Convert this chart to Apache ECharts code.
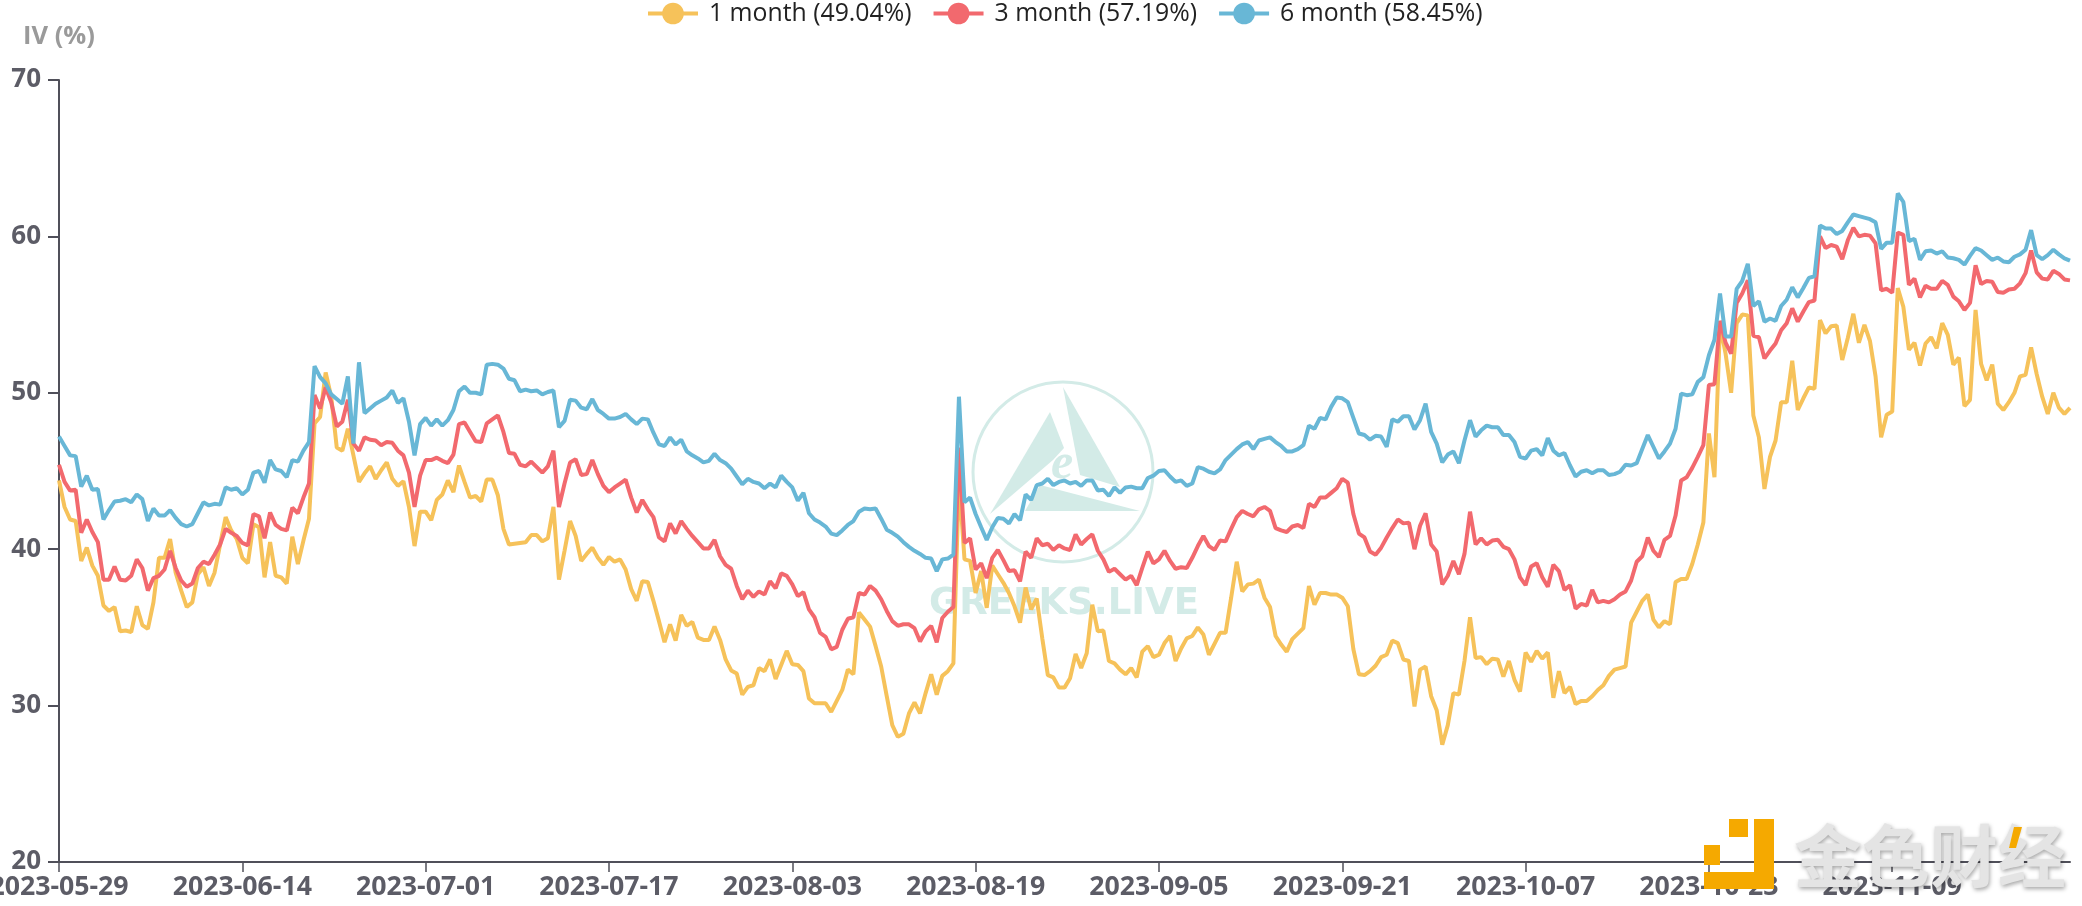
<!DOCTYPE html>
<html>
<head>
<meta charset="utf-8">
<title>IV</title>
<style>
  html, body { margin: 0; padding: 0; background: #fff; }
  #chart { width: 2082px; height: 906px; }
</style>
</head>
<body>
<div id="chart"></div>
<script src="https://cdn.jsdelivr.net/npm/echarts@6/dist/echarts.min.js"></script>
<script>
const tickLabels = ['2023-05-29', '2023-06-14', '2023-07-01', '2023-07-17', '2023-08-03', '2023-08-19',
  '2023-09-05', '2023-09-21', '2023-10-07', '2023-10-23', '2023-11-09']
const seriesNames = ['1 month (49.04%)', '3 month (57.19%)', '6 month (58.45%)']

const oneMonth = [
  44.4,42.7,41.9,41.8,39.25,40.1,38.95,38.3,36.4,36.05,
  36.3,34.75,34.8,34.7,36.35,35.15,34.9,36.6,39.45,39.45,
  40.65,38.5,37.35,36.3,36.6,38.4,38.85,37.65,38.5,40.3,
  42.05,41.2,40.65,39.45,39.1,41.6,41.4,38.2,40.45,38.3,
  38.2,37.8,40.8,39.05,40.55,41.95,48.05,48.45,51.3,49.75,
  46.5,46.3,47.7,46.0,44.3,44.85,45.3,44.5,45.05,45.55,
  44.5,44.05,44.35,42.7,40.2,42.4,42.4,41.85,43.15,43.5,
  44.4,43.65,45.35,44.3,43.3,43.4,43.05,44.45,44.45,43.45,
  41.3,40.3,40.35,40.4,40.45,40.9,40.9,40.5,40.7,42.7,
  38.05,39.9,41.8,40.85,39.25,39.7,40.1,39.45,39.0,39.5,
  39.2,39.35,38.7,37.45,36.7,37.95,37.9,36.7,35.4,34.05,
  35.2,34.15,35.8,35.1,35.35,34.35,34.2,34.2,35.05,34.2,
  32.95,32.25,32.05,30.7,31.2,31.3,32.4,32.2,32.95,31.7,
  32.6,33.5,32.65,32.6,32.2,30.45,30.15,30.15,30.15,29.6,
  30.3,31.0,32.3,32.0,35.95,35.5,35.05,33.8,32.5,30.6,
  28.75,28.0,28.2,29.5,30.2,29.5,30.8,32.0,30.7,31.9,
  32.2,32.7,44.5,39.35,39.25,37.2,38.6,36.25,38.95,38.4,
  37.85,37.2,36.35,35.3,37.55,36.15,36.85,34.3,31.95,31.8,
  31.15,31.15,31.75,33.3,32.4,33.35,36.45,34.75,34.8,32.85,
  32.7,32.3,32.0,32.4,31.8,33.45,33.8,33.1,33.25,34.0,
  34.45,32.85,33.65,34.3,34.45,35.0,34.55,33.25,33.95,34.65,
  34.65,36.9,39.2,37.3,37.75,37.8,38.05,36.9,36.3,34.45,
  33.9,33.45,34.25,34.6,34.95,37.65,36.45,37.2,37.2,37.1,
  37.1,36.9,36.35,33.6,32.0,31.95,32.2,32.55,33.1,33.25,
  34.15,34.0,32.95,32.85,29.95,32.3,32.5,30.6,29.7,27.5,
  28.75,30.8,30.7,32.85,35.65,33.05,33.1,32.65,33.0,32.95,
  31.85,32.85,31.65,30.9,33.4,32.8,33.5,33.0,33.4,30.5,
  32.2,30.8,31.2,30.1,30.3,30.3,30.6,31.0,31.3,31.9,
  32.3,32.4,32.5,35.3,36.0,36.7,37.1,35.5,35.0,35.4,
  35.2,37.9,38.1,38.1,39.05,40.3,41.7,47.4,44.6,54.35,
  52.5,50.0,54.45,55.0,54.95,48.55,47.15,43.85,45.9,46.95,
  49.4,49.4,52.05,48.9,49.65,50.35,50.25,54.65,53.8,54.25,
  54.3,52.1,53.5,55.05,53.2,54.35,53.3,51.05,47.15,48.6,
  48.8,56.7,55.5,52.75,53.2,51.75,53.15,53.55,52.85,54.45,
  53.7,51.8,52.25,49.15,49.55,55.3,51.85,50.8,51.8,49.3,
  48.9,49.4,50.0,51.05,51.15,52.9,51.2,49.75,48.65,50.0,
  49.05,48.65,49.04,
]

const threeMonth = [
  45.4,44.3,43.75,43.8,41.05,41.9,41.1,40.45,38.05,38.05,
  38.9,38.05,38.0,38.3,39.35,38.8,37.35,38.15,38.3,38.7,
  39.9,38.8,38.0,37.6,37.8,38.8,39.2,39.05,39.65,40.3,
  41.3,41.05,40.85,40.4,40.25,42.25,42.1,40.7,42.35,41.55,
  41.3,41.2,42.65,42.3,43.3,44.2,49.85,49.0,50.35,49.4,
  47.85,48.15,49.55,46.75,46.3,47.15,47.0,46.95,46.65,46.85,
  46.8,46.3,46.0,44.9,42.7,44.7,45.7,45.7,45.85,45.65,
  45.5,46.05,48.0,48.1,47.5,46.9,46.85,48.05,48.3,48.55,
  47.5,46.15,46.1,45.4,45.3,45.6,45.25,44.9,45.3,46.3,
  42.7,44.2,45.55,45.75,44.75,44.8,45.7,44.8,44.05,43.65,
  43.95,44.2,44.45,43.3,42.35,43.15,42.55,42.05,40.75,40.5,
  41.65,41.0,41.8,41.3,40.85,40.45,40.05,40.05,40.6,39.55,
  39.0,38.75,37.65,36.8,37.35,36.95,37.3,37.1,37.95,37.5,
  38.45,38.3,37.75,37.0,37.25,36.15,35.65,34.65,34.4,33.6,
  33.75,34.85,35.55,35.65,37.2,37.1,37.65,37.35,36.8,36.05,
  35.4,35.1,35.2,35.2,34.95,34.1,34.75,35.1,34.05,35.6,
  36.0,36.3,46.5,40.4,40.7,38.7,39.1,38.15,39.45,39.95,
  39.3,38.6,38.65,37.95,39.85,39.45,40.7,40.25,40.35,39.95,
  40.25,40.05,39.95,40.95,40.3,40.65,40.95,39.9,39.35,38.55,
  38.75,38.4,38.05,38.3,37.7,38.8,39.85,39.1,39.35,39.9,
  39.25,38.75,38.85,38.8,39.45,40.2,40.85,40.2,39.95,40.55,
  40.5,41.3,42.05,42.45,42.25,42.1,42.55,42.7,42.45,41.35,
  41.2,41.1,41.45,41.55,41.35,42.9,42.7,43.3,43.3,43.6,
  43.9,44.5,44.25,42.25,41.0,40.75,39.85,39.65,40.1,40.75,
  41.35,41.9,41.65,41.7,40.0,41.5,42.3,40.3,39.85,37.75,
  38.3,39.25,38.4,39.7,42.4,40.3,40.7,40.3,40.55,40.6,
  40.15,40.0,39.35,38.2,37.7,38.9,39.1,38.2,37.6,39.0,
  38.6,37.4,37.7,36.2,36.5,36.4,37.4,36.6,36.7,36.6,
  36.8,37.1,37.3,38.0,39.2,39.55,40.75,39.9,39.5,40.6,
  40.85,42.15,44.4,44.6,45.2,45.9,46.65,50.5,50.55,54.6,
  53.2,52.5,55.75,56.35,57.2,53.65,53.55,52.2,52.7,53.15,
  54.0,54.45,55.4,54.55,55.2,55.8,55.9,60.0,59.25,59.45,
  59.35,58.55,59.75,60.55,60.0,60.1,60.05,59.55,56.55,56.65,
  56.4,60.25,60.1,56.9,57.3,56.1,56.85,56.65,56.65,57.15,
  56.9,56.15,55.85,55.3,55.75,58.15,56.95,57.15,57.1,56.45,
  56.4,56.6,56.65,57.0,57.65,59.1,57.7,57.3,57.25,57.8,
  57.6,57.25,57.19,
]

const sixMonth = [
  47.2,46.6,46.0,45.95,44.0,44.7,43.8,43.85,41.9,42.5,
  43.05,43.1,43.2,43.0,43.5,43.2,41.8,42.6,42.15,42.15,
  42.5,42.0,41.6,41.45,41.6,42.3,43.0,42.8,42.9,42.85,
  43.95,43.8,43.9,43.5,43.8,44.9,45.0,44.25,45.7,45.1,
  45.0,44.6,45.7,45.6,46.3,46.85,51.7,51.0,50.6,49.9,
  49.6,49.3,51.05,46.75,51.95,48.7,49.0,49.3,49.5,49.7,
  50.15,49.35,49.65,48.15,46.0,48.0,48.4,47.9,48.3,47.9,
  48.25,48.9,50.1,50.4,50.0,50.0,49.9,51.8,51.85,51.8,
  51.55,50.9,50.8,50.1,50.2,50.1,50.15,49.9,50.05,50.15,
  47.8,48.2,49.55,49.5,49.05,48.95,49.6,48.9,48.65,48.35,
  48.35,48.45,48.65,48.3,48.0,48.35,48.3,47.45,46.7,46.6,
  47.15,46.7,47.0,46.25,46.0,45.8,45.55,45.65,46.1,45.7,
  45.5,45.15,44.65,44.15,44.5,44.3,44.2,43.9,44.2,43.95,
  44.7,44.3,43.95,43.1,43.6,42.3,41.9,41.7,41.45,41.0,
  40.9,41.2,41.55,41.8,42.4,42.6,42.55,42.6,41.95,41.25,
  41.05,40.8,40.45,40.15,39.9,39.7,39.45,39.4,38.6,39.35,
  39.4,39.65,49.75,43.0,43.3,42.25,41.4,40.6,41.4,42.0,
  41.95,41.65,42.25,41.85,43.5,43.15,44.1,44.2,44.5,44.1,
  44.3,44.4,44.2,44.3,44.05,44.4,44.4,43.75,43.8,43.4,
  43.95,43.6,43.95,44.0,43.9,43.9,44.55,44.7,45.0,45.05,
  44.65,44.3,44.4,44.05,44.2,45.25,45.15,44.95,44.85,45.1,
  45.7,46.05,46.4,46.7,46.85,46.4,46.95,47.05,47.15,46.85,
  46.6,46.25,46.25,46.4,46.65,47.9,47.7,48.4,48.3,49.1,
  49.7,49.65,49.4,48.4,47.4,47.3,47.0,47.25,47.2,46.55,
  48.3,48.15,48.5,48.5,47.65,48.25,49.3,47.5,46.75,45.55,
  46.05,46.25,45.5,46.95,48.25,47.2,47.6,47.9,47.8,47.8,
  47.3,47.3,46.85,45.9,45.8,46.3,46.4,46.0,47.1,46.3,
  46.0,46.15,45.35,44.65,44.95,45.05,44.85,45.05,45.05,44.75,
  44.8,44.95,45.4,45.35,45.5,46.4,47.3,46.55,45.8,46.25,
  46.75,47.7,49.95,49.85,49.9,50.7,51.0,52.4,53.4,56.35,
  53.6,53.6,56.65,57.15,58.25,55.55,55.85,54.55,54.75,54.6,
  55.55,55.95,56.75,56.1,56.7,57.35,57.45,60.7,60.5,60.5,
  60.15,60.35,60.9,61.4,61.3,61.2,61.1,60.9,59.2,59.6,
  59.6,62.75,62.2,59.7,59.85,58.5,59.05,59.1,58.9,59.05,
  58.65,58.6,58.5,58.2,58.75,59.25,59.1,58.8,58.5,58.65,
  58.4,58.35,58.7,58.85,59.15,60.4,58.8,58.55,58.8,59.15,
  58.85,58.6,58.45,
]

// points are half a day apart, each tick starts a run of 33
const ticksEvery = 33
const categories = oneMonth.map((_, i) => {
  const tick = tickLabels[Math.floor(i / ticksEvery)]
  if (i % ticksEvery === 0) return tick
  const d = new Date(tick + 'T00:00:00Z')
  d.setTime(d.getTime() + (i % ticksEvery) * 12 * 3600 * 1000)
  return d.toISOString().slice(0, 16).replace('T', ' ')
})

const labelColor = '#5c5c66'
const axisColor = '#50505a'
const markColor = '#d3ebe7'
const logoColor = '#f5a900'

function poly(points, fill, z) {
  return { type: 'polygon', z: z, silent: true, shape: { points: points }, style: { fill: fill } }
}

function rect(x, y, width, height) {
  return { type: 'rect', z: 100, silent: true, shape: { x, y, width, height }, style: { fill: logoColor } }
}

const chart = echarts.init(document.getElementById('chart'))

chart.setOption({
  animation: false,
  backgroundColor: '#fff',
  textStyle: { fontFamily: '"Open Sans", sans-serif' },
  color: ['#f6c25a', '#f2696e', '#68b7d6'],
  legend: {
    left: 646,
    top: 1,
    padding: 0,
    itemWidth: 50,
    itemHeight: 27,
    itemGap: 20,
    lineStyle: { width: 4 },
    textStyle: { fontSize: 24.8, color: '#222', padding: [0, 0, 0, 6], fontFamily: '"Open Sans", sans-serif' },
    data: seriesNames,
  },
  grid: { left: 59, right: 12, top: 80, bottom: 44, outerBoundsMode: 'none' },
  xAxis: {
    type: 'category',
    boundaryGap: false,
    data: categories,
    axisLine: { lineStyle: { color: axisColor, width: 2 } },
    axisTick: { interval: ticksEvery - 1, length: 10, lineStyle: { color: axisColor, width: 1.5 } },
    axisLabel: {
      interval: ticksEvery - 1,
      hideOverlap: false,
      margin: 12,
      fontSize: 26.7,
      fontWeight: 'bold',
      color: labelColor,
      formatter: (v) => v.slice(0, 10),
    },
  },
  yAxis: {
    type: 'value',
    min: 20,
    max: 70,
    interval: 10,
    name: 'IV (%)',
    nameGap: 30,
    nameTextStyle: { fontSize: 25.5, fontWeight: 'bold', color: '#9a9a9a' },
    splitLine: { show: false },
    axisLine: { show: true, lineStyle: { color: axisColor, width: 2 } },
    axisTick: { show: true, length: 11, lineStyle: { color: axisColor, width: 2 } },
    axisLabel: { margin: 18, fontSize: 26, fontWeight: 'bold', color: labelColor },
  },
  graphic: [
    // GREEKS.LIVE mark under the lines
    { type: 'circle', z: 0, silent: true, shape: { cx: 1063, cy: 472, r: 90 }, style: { fill: 'none', stroke: markColor, lineWidth: 3 } },
    poly([[1050, 412], [1064, 448], [1053, 460], [990, 514]], markColor, 0),
    poly([[1063, 387], [1120, 487], [1080, 475]], markColor, 0),
    poly([[1040, 485], [1140, 511], [1025, 511]], markColor, 0),
    { type: 'text', z: 0, silent: true, x: 1062, y: 465, style: { text: 'e', fill: markColor, fontSize: 50, fontStyle: 'italic', fontWeight: 'bold', fontFamily: '"Liberation Serif", serif', textAlign: 'center', textVerticalAlign: 'middle' } },
    { type: 'text', z: 0, silent: true, x: 1064, y: 604, style: { text: 'GREEKS.LIVE', fill: markColor, fontSize: 37, fontWeight: 'bold', fontFamily: '"DejaVu Sans", sans-serif', textAlign: 'center', textVerticalAlign: 'middle' } },
    // 金色财经 stamp on top of the axis
    rect(1729, 819, 19, 18),
    rect(1754, 819, 20, 66),
    rect(1704, 872, 70, 17),
    rect(1704, 845, 16, 20),
    {
      type: 'text', z: 100, silent: true, x: 1794, y: 856,
      style: {
        text: '金色财经', fill: '#e4e4e4', fontSize: 68, fontWeight: 'bold',
        fontFamily: '"Noto Sans CJK SC", sans-serif', textAlign: 'left', textVerticalAlign: 'middle',
        textShadowColor: 'rgba(0,0,0,0.35)', textShadowBlur: 4, textShadowOffsetX: 1, textShadowOffsetY: 2,
      },
    },
    poly([[2014, 827], [2022, 827], [2016, 848], [2009, 848]], logoColor, 101),
  ],
  series: [
    { name: seriesNames[0], type: 'line', data: oneMonth, symbol: 'circle', showSymbol: false, lineStyle: { width: 4 } },
    { name: seriesNames[1], type: 'line', data: threeMonth, symbol: 'circle', showSymbol: false, lineStyle: { width: 4 } },
    { name: seriesNames[2], type: 'line', data: sixMonth, symbol: 'circle', showSymbol: false, lineStyle: { width: 4 } },
  ],
})

window.addEventListener('resize', () => chart.resize())
</script>
</body>
</html>
